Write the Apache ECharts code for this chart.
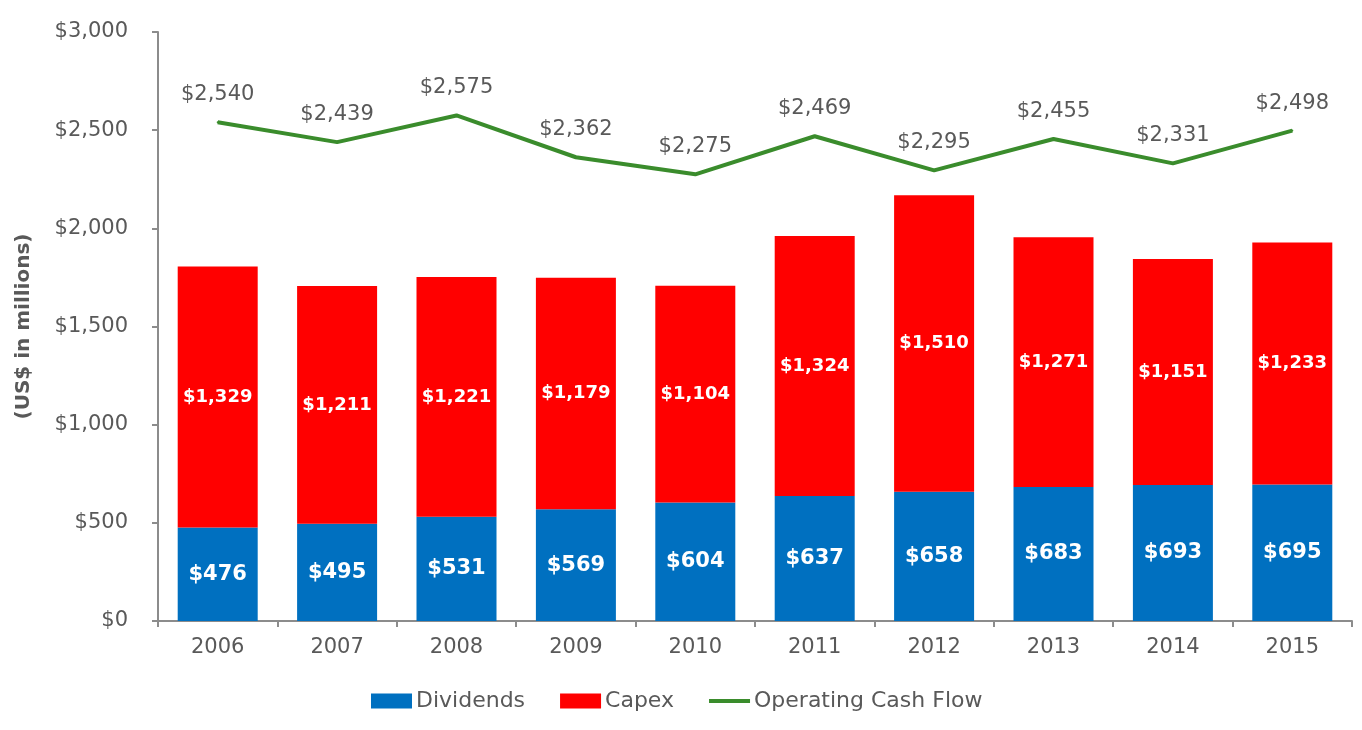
<!DOCTYPE html>
<html>
<head>
<meta charset="utf-8">
<script src="https://cdn.jsdelivr.net/npm/echarts@6/dist/echarts.min.js"></script>
<style>
html,body{margin:0;padding:0;background:#fff;}
#chart{width:1362px;height:730px;}
</style>
</head>
<body>
<div id="chart"></div>
<script>
const categories = ['2006','2007','2008','2009','2010','2011','2012','2013','2014','2015'];
const dividends = [476,495,531,569,604,637,658,683,693,695];
const capex = [1329,1211,1221,1179,1104,1324,1510,1271,1151,1233];
const operatingCashFlow = [2540,2439,2575,2362,2275,2469,2295,2455,2331,2498];
const yTicks = [0,500,1000,1500,2000,2500,3000];

const FONT = 'DejaVu Sans';
const GREY = '#595959';
const GREEN = '#3A8C2C';
const fmt = v => '$' + Number(v).toLocaleString('en-US');

const chart = echarts.init(document.getElementById('chart'));
chart.setOption({
  animation: false,
  textStyle: {fontFamily: FONT},
  grid: {left: 158, right: 10, top: 32, bottom: 109},
  legend: {
    top: 685,
    left: 366,
    itemWidth: 41,
    itemHeight: 15,
    itemGap: 35,
    textStyle: {fontFamily: FONT, fontSize: 22, color: GREY, padding: [0,0,0,-1]},
    data: [
      {name: 'Dividends', icon: 'rect'},
      {name: 'Capex', icon: 'rect'},
      {name: 'Operating Cash Flow', icon: 'path://M0 0H41V4H0Z', itemStyle: {color: GREEN, opacity: 1}}
    ]
  },
  xAxis: {
    type: 'category',
    data: categories,
    axisLine: {lineStyle: {color: '#8c8c8c', width: 2}},
    axisTick: {show: true, length: 6, alignWithLabel: false, lineStyle: {color: '#8c8c8c', width: 2}},
    axisLabel: {fontFamily: FONT, fontSize: 21, color: GREY, margin: 16}
  },
  yAxis: {
    type: 'value',
    min: yTicks[0],
    max: yTicks[yTicks.length-1],
    interval: 500,
    name: '(US$ in millions)',
    nameLocation: 'middle',
    nameRotate: 90,
    nameGap: 124,
    nameTextStyle: {fontFamily: FONT, fontSize: 20, fontWeight: 'bold', color: GREY},
    axisLine: {show: true, lineStyle: {color: '#8c8c8c', width: 2}},
    axisTick: {show: true, length: 6, lineStyle: {color: '#8c8c8c', width: 2}},
    splitLine: {show: false},
    axisLabel: {fontFamily: FONT, fontSize: 21, color: GREY, margin: 30, formatter: fmt}
  },
  series: [
    {
      name: 'Dividends',
      type: 'bar',
      stack: 'total',
      barWidth: 80,
      data: dividends,
      itemStyle: {color: '#0070C0'},
      label: {show: true, position: 'inside', color: '#fff', fontFamily: FONT, fontWeight: 'bold', fontSize: 21, formatter: p => fmt(p.value)}
    },
    {
      name: 'Capex',
      type: 'bar',
      stack: 'total',
      barWidth: 80,
      data: capex,
      itemStyle: {color: '#FF0000'},
      label: {show: true, position: 'inside', color: '#fff', fontFamily: FONT, fontWeight: 'bold', fontSize: 18, formatter: p => fmt(p.value)}
    },
    {
      name: 'Operating Cash Flow',
      type: 'line',
      data: operatingCashFlow,
      symbol: 'circle',
      symbolSize: 2,
      showSymbol: true,
      lineStyle: {color: GREEN, width: 4},
      itemStyle: {color: GREEN},
      label: {show: true, position: 'top', distance: 16, color: GREY, fontFamily: FONT, fontSize: 21, formatter: p => fmt(p.value)}
    }
  ]
});
</script>
</body>
</html>
